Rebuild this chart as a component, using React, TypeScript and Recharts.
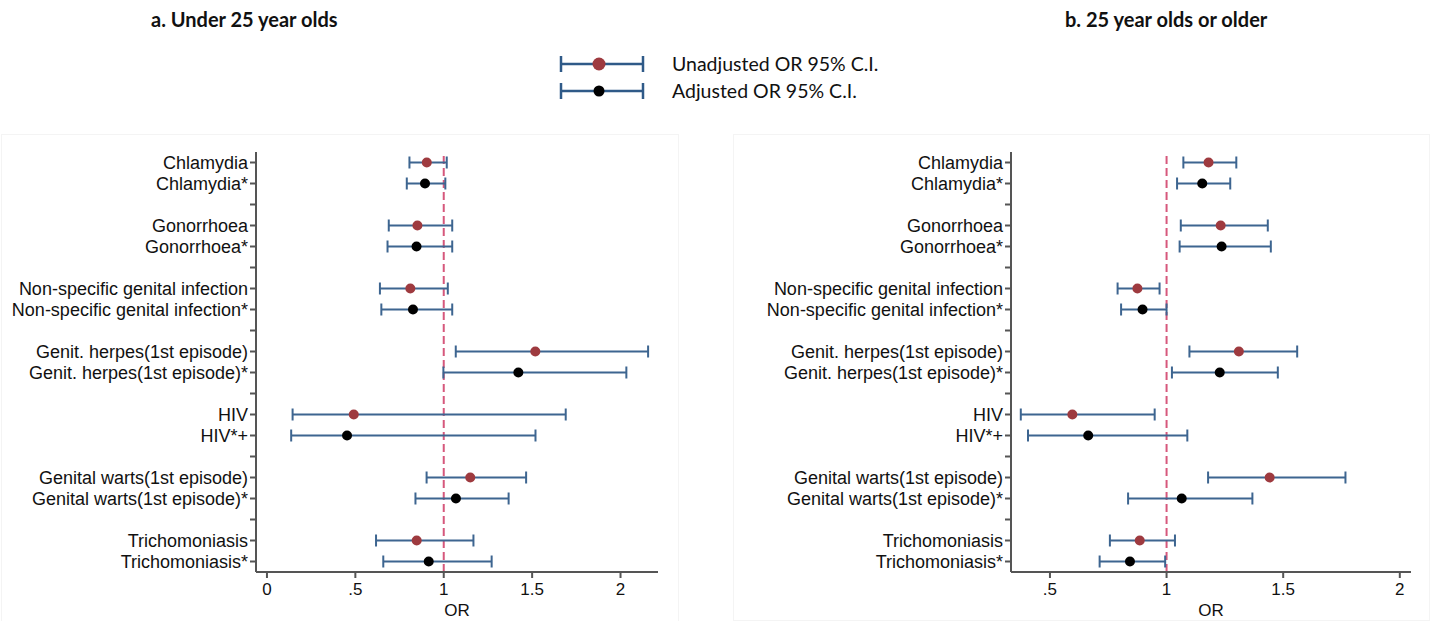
import React from 'react';
import { ScatterChart, Scatter, XAxis, YAxis, ErrorBar, ReferenceLine } from 'recharts';

const CATEGORIES = [
  'Chlamydia',
  'Gonorrhoea',
  'Non-specific genital infection',
  'Genit. herpes(1st episode)',
  'HIV',
  'Genital warts(1st episode)',
  'Trichomoniasis',
];
const ADJ_SUFFIX = ['*', '*', '*', '*', '*+', '*', '*'];

// a. Under 25 year olds
const U25_UNADJ_OR = [0.904, 0.851, 0.811, 1.518, 0.491, 1.15, 0.847];
const U25_UNADJ_LO = [0.806, 0.689, 0.639, 1.068, 0.145, 0.903, 0.617];
const U25_UNADJ_HI = [1.017, 1.048, 1.023, 2.156, 1.69, 1.466, 1.168];
const U25_ADJ_OR = [0.894, 0.846, 0.826, 1.422, 0.453, 1.069, 0.915];
const U25_ADJ_LO = [0.791, 0.682, 0.647, 0.998, 0.137, 0.84, 0.658];
const U25_ADJ_HI = [1.009, 1.048, 1.048, 2.033, 1.519, 1.367, 1.271];

// b. 25 year olds or older
const O25_UNADJ_OR = [1.18, 1.232, 0.875, 1.31, 0.596, 1.442, 0.885];
const O25_UNADJ_LO = [1.072, 1.061, 0.79, 1.098, 0.375, 1.178, 0.757];
const O25_UNADJ_HI = [1.299, 1.434, 0.97, 1.56, 0.949, 1.767, 1.036];
const O25_ADJ_OR = [1.153, 1.236, 0.897, 1.228, 0.664, 1.065, 0.843];
const O25_ADJ_LO = [1.045, 1.056, 0.805, 1.023, 0.406, 0.835, 0.713];
const O25_ADJ_HI = [1.273, 1.447, 1.0, 1.477, 1.089, 1.368, 0.994];

const U25_TICKS = [0, 0.5, 1, 1.5, 2];
const O25_TICKS = [0.5, 1, 1.5, 2];

// each disease takes 3 rows: unadjusted, adjusted, blank gap
const ROW_LABELS: string[] = [];
CATEGORIES.forEach((c, i) => {
  ROW_LABELS.push(c, c + ADJ_SUFFIX[i]);
  if (i < CATEGORIES.length - 1) ROW_LABELS.push('');
});
const ROW_TICKS = ROW_LABELS.map((_, i) => i);

const BAR_COLOR = '#3d6590';
const RED = '#9e3a3f';
const AXIS_COLOR = '#555555';
const FONT = '"Liberation Sans", Arial, sans-serif';

const buildRows = (or: number[], lo: number[], hi: number[], offset: number) =>
  or.map((v, i) => ({ x: v, y: i * 3 + offset, err: [v - lo[i], hi[i] - v] }));

const fmtOR = (v: number) => (v === 0 ? '0' : String(v).replace(/^0\./, '.'));

const dot = (fill: string) => (props: any) => (
  <circle cx={props.cx} cy={props.cy} r={5} fill={fill} />
);

interface PanelProps {
  width: number;
  yAxisWidth: number;
  marginRight: number;
  xDomain: [number, number];
  xTicks: number[];
  unadj: { x: number; y: number; err: number[] }[];
  adj: { x: number; y: number; err: number[] }[];
}

const Panel: React.FC<PanelProps> = ({ width, yAxisWidth, marginRight, xDomain, xTicks, unadj, adj }) => (
  <ScatterChart width={width} height={621} margin={{ top: 152, right: marginRight, bottom: 0, left: 0 }}>
    <XAxis
      type="number"
      dataKey="x"
      domain={xDomain}
      ticks={xTicks}
      allowDataOverflow
      tickFormatter={fmtOR}
      height={49}
      stroke={AXIS_COLOR}
      strokeWidth={2}
      tickSize={6}
      tickMargin={5}
      tick={{ fontSize: 17, fill: '#111', fontFamily: FONT }}
      label={{ value: 'OR', position: 'insideBottom', offset: 5, fontSize: 17, fill: '#111', fontFamily: FONT }}
    />
    <YAxis
      type="number"
      dataKey="y"
      domain={[-0.5, 19.5]}
      reversed
      ticks={ROW_TICKS}
      interval={0}
      allowDataOverflow
      tickFormatter={(v: number) => ROW_LABELS[v] ?? ''}
      width={yAxisWidth}
      stroke={AXIS_COLOR}
      strokeWidth={2}
      tickSize={6}
      tickMargin={2}
      tick={{ fontSize: 18, fill: '#111', fontFamily: FONT }}
    />
    <ReferenceLine x={1} stroke="#d6587c" strokeWidth={2} strokeDasharray="8 4" />
    <Scatter data={unadj} shape={dot(RED)} isAnimationActive={false}>
      <ErrorBar dataKey="err" direction="x" width={6} stroke={BAR_COLOR} strokeWidth={2} isAnimationActive={false} />
    </Scatter>
    <Scatter data={adj} shape={dot('#000')} isAnimationActive={false}>
      <ErrorBar dataKey="err" direction="x" width={6} stroke={BAR_COLOR} strokeWidth={2} isAnimationActive={false} />
    </Scatter>
  </ScatterChart>
);

const LegendKey: React.FC<{ fill: string; r: number }> = ({ fill, r }) => (
  <svg width={90} height={20} style={{ display: 'block' }}>
    <line x1={2} y1={10} x2={84} y2={10} stroke="#2f5a88" strokeWidth={2.5} />
    <line x1={2} y1={2} x2={2} y2={18} stroke="#2f5a88" strokeWidth={2.5} />
    <line x1={84} y1={2} x2={84} y2={18} stroke="#2f5a88" strokeWidth={2.5} />
    <circle cx={40} cy={10} r={r} fill={fill} />
  </svg>
);

const App: React.FC = () => {
  const titleStyle: React.CSSProperties = {
    position: 'absolute',
    top: 5,
    fontFamily: 'Lato, "Open Sans", sans-serif',
    fontWeight: 700,
    fontSize: 20,
    lineHeight: '28px',
    color: '#111',
    whiteSpace: 'nowrap',
  };
  const legendText: React.CSSProperties = {
    position: 'absolute',
    left: 672,
    fontFamily: 'Lato, "Open Sans", sans-serif',
    fontSize: 19.5,
    lineHeight: '24px',
    color: '#111',
    whiteSpace: 'nowrap',
  };
  return (
    <div style={{ position: 'absolute', left: 0, top: 0, width: 1430, height: 621, background: '#fff', overflow: 'hidden' }}>
      <div style={{ position: 'absolute', left: 1, top: 134, width: 676, height: 486, border: '1px solid #f4f4f4' }} />
      <div style={{ position: 'absolute', left: 733, top: 134, width: 695, height: 485, border: '1px solid #f4f4f4' }} />
      <div style={{ ...titleStyle, left: 151 }}>a. Under 25 year olds</div>
      <div style={{ ...titleStyle, left: 1065 }}>b. 25 year olds or older</div>

      <div style={{ position: 'absolute', left: 559, top: 54 }}>
        <LegendKey fill={RED} r={6.5} />
      </div>
      <div style={{ position: 'absolute', left: 559, top: 81 }}>
        <LegendKey fill="#000" r={5.5} />
      </div>
      <div style={{ ...legendText, top: 52 }}>Unadjusted OR 95% C.I.</div>
      <div style={{ ...legendText, top: 79 }}>Adjusted OR 95% C.I.</div>

      <div style={{ position: 'absolute', left: 0, top: 0 }}>
        <Panel
          width={700}
          yAxisWidth={256}
          marginRight={42}
          xDomain={[-0.062, 2.212]}
          xTicks={U25_TICKS}
          unadj={buildRows(U25_UNADJ_OR, U25_UNADJ_LO, U25_UNADJ_HI, 0)}
          adj={buildRows(U25_ADJ_OR, U25_ADJ_LO, U25_ADJ_HI, 1)}
        />
      </div>
      <div style={{ position: 'absolute', left: 720, top: 0 }}>
        <Panel
          width={710}
          yAxisWidth={291}
          marginRight={19}
          xDomain={[0.333, 2.048]}
          xTicks={O25_TICKS}
          unadj={buildRows(O25_UNADJ_OR, O25_UNADJ_LO, O25_UNADJ_HI, 0)}
          adj={buildRows(O25_ADJ_OR, O25_ADJ_LO, O25_ADJ_HI, 1)}
        />
      </div>
    </div>
  );
};

export default App;
